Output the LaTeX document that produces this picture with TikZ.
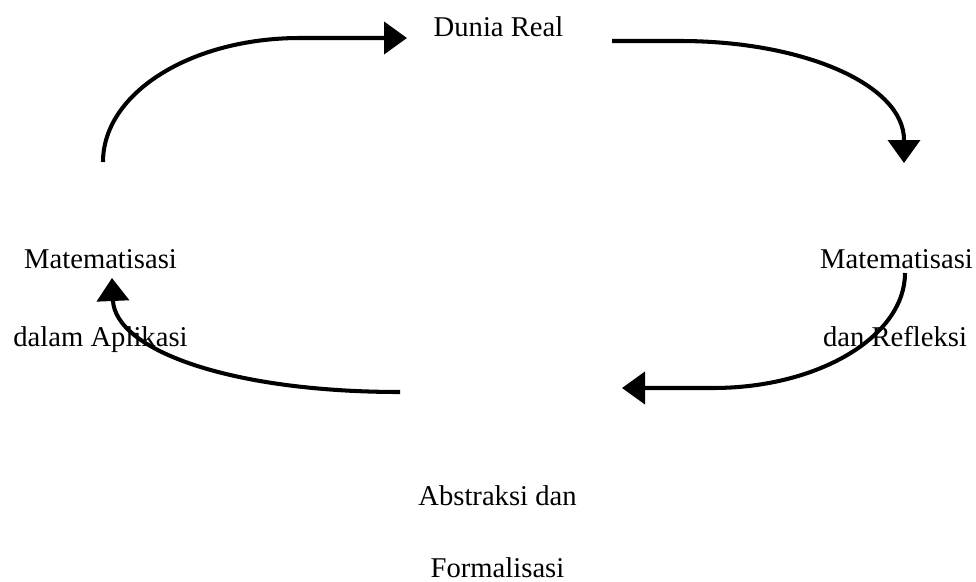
\documentclass[tikz,border=0pt]{standalone}
\usepackage{fontspec}
\setmainfont{Liberation Serif}
\usetikzlibrary{arrows.meta}
\tikzset{
  lbl/.style={anchor=base,inner sep=0pt,font=\fontsize{16.3}{19}\selectfont},
  cycarrow/.style={line width=2.3pt,-{Triangle[length=0.46cm,width=0.64cm]}}
}
\begin{document}
\begin{tikzpicture}[x=0.02cm,y=-0.02cm]
\useasboundingbox (0,0) rectangle (976,581);
\node[lbl] (dunia) at (498.5,37) {Dunia Real};
\node[lbl] (matL) at (100.5,268) {Matematisasi};
\node[lbl] (apl) at (100.5,346) {dalam Aplikasi};
\node[lbl] (matR) at (896.5,268) {Matematisasi};
\node[lbl] (ref) at (895,346) {dan Refleksi};
\node[lbl] (abs) at (497.5,505) {Abstraksi dan};
\node[lbl] (form) at (497.5,577) {Formalisasi};
% ends of the four arcs
\coordinate (a1) at (103,162);
\coordinate (b1) at (407,38);
\coordinate (a2) at (612,41);
\coordinate (b2) at (904,163);
\coordinate (a3) at (905,273);
\coordinate (b3) at (622,388);
\coordinate (a4) at (400,392);
\coordinate (b4) at (112,278);
\draw[cycarrow] (a1) .. controls (103,93) and (191,38) .. (300,38) -- (b1);
\draw[cycarrow] (a2) -- (680,41) .. controls (804,41) and (904,85) .. (904,140) -- (b2);
\draw[cycarrow] (a3) .. controls (905,336) and (819,388) .. (713,388) -- (b3);
\draw[cycarrow] (a4) .. controls (230,392) and (115,350) .. (b4);
\end{tikzpicture}
\end{document}
